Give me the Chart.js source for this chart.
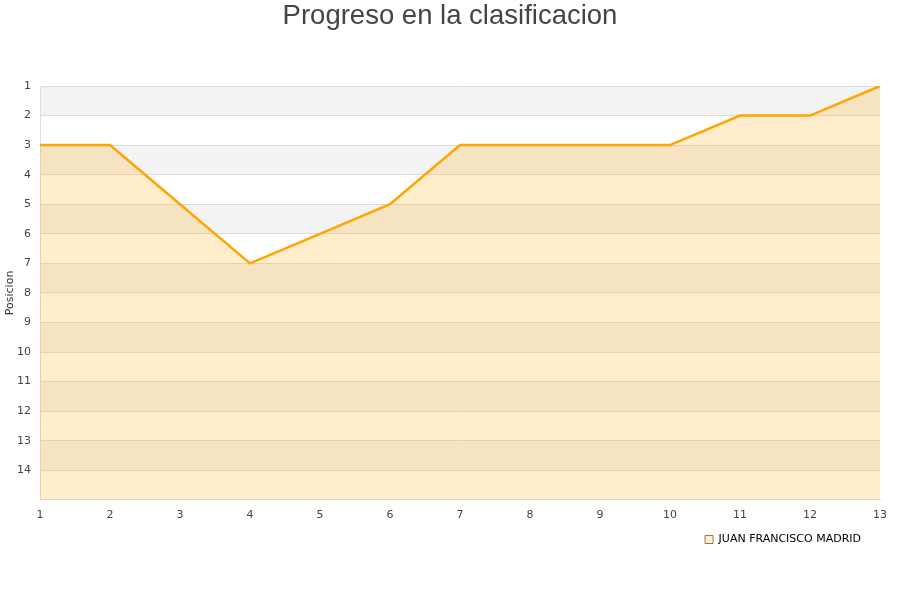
<!DOCTYPE html>
<html>
<head>
<meta charset="utf-8">
<script src="https://cdn.jsdelivr.net/npm/chart.js@4"></script>
<style>
  html, body { margin: 0; padding: 0; background: #fff; }
</style>
</head>
<body>
<canvas id="chart" width="900" height="600"></canvas>
<script>
// jornadas and position per jornada
const jornadas = ['1', '2', '3', '4', '5', '6', '7', '8', '9', '10', '11', '12', '13']
const posiciones = [3, 3, 5, 7, 6, 5, 3, 3, 3, 3, 2, 2, 1]
const jugador = 'JUAN FRANCISCO MADRID'
const posMin = 1
const posMax = 15

// gray stripes every other row, drawn before the grid
const bandas = {
  id: 'bandas',
  beforeDraw(chart) {
    const { ctx, chartArea, scales } = chart
    ctx.save()
    ctx.fillStyle = '#f3f3f3'
    for (let v = posMin; v < posMax; v += 2) {
      const y1 = scales.y.getPixelForValue(v)
      const y2 = scales.y.getPixelForValue(v + 1)
      ctx.fillRect(chartArea.left, y1, chartArea.right - chartArea.left, y2 - y1)
    }
    ctx.restore()
  }
}

// center the title on the canvas and nudge the legend left
const ajustes = {
  id: 'ajustes',
  afterLayout(chart) {
    if (chart.legend) {
      chart.legend.left -= 8
      chart.legend.right -= 8
    }
    if (chart.titleBlock) {
      chart.titleBlock.left += 10
      chart.titleBlock.right += 10
    }
  }
}

new Chart(document.getElementById('chart'), {
  type: 'line',
  data: {
    labels: jornadas,
    datasets: [
      {
        label: jugador,
        data: posiciones,
        borderColor: '#ffa500',
        backgroundColor: 'rgba(255, 165, 0, 0.2)',
        borderWidth: 2.5,
        pointRadius: 0,
        tension: 0,
        fill: { value: posMax }
      }
    ]
  },
  options: {
    responsive: false,
    animation: false,
    devicePixelRatio: 1,
    layout: { padding: { left: 0, right: 20, top: 0, bottom: 45 } },
    plugins: {
      title: {
        display: true,
        text: 'Progreso en la clasificacion',
        color: '#444',
        font: { family: 'Liberation Sans', size: 27.5, weight: 'normal' },
        padding: { top: 0, bottom: 53 }
      },
      legend: {
        position: 'bottom',
        align: 'end',
        labels: {
          boxWidth: 8,
          boxHeight: 8,
          padding: 11,
          color: '#000',
          font: { family: 'DejaVu Sans', size: 11 },
          generateLabels(chart) {
            const items = Chart.defaults.plugins.legend.labels.generateLabels(chart)
            items.forEach((item) => {
              item.lineWidth = 1
              item.strokeStyle = '#8a7a60'
            })
            return items
          }
        }
      },
      tooltip: { enabled: false }
    },
    scales: {
      x: {
        grid: { display: false },
        border: { color: '#ddd' },
        ticks: {
          color: '#444',
          padding: 1,
          font: { family: 'DejaVu Sans', size: 11 },
          maxRotation: 0,
          autoSkip: false
        }
      },
      y: {
        reverse: true,
        min: posMin,
        max: posMax,
        title: {
          display: true,
          text: 'Posicion',
          color: '#333',
          font: { family: 'DejaVu Sans', size: 11 },
          padding: { top: 4, bottom: 0 }
        },
        grid: { color: '#ddd', drawTicks: false },
        border: { color: '#ddd' },
        ticks: {
          stepSize: 1,
          padding: 9,
          color: '#444',
          font: { family: 'DejaVu Sans', size: 11 },
          callback: (v) => (v === posMax ? '' : v)
        },
        afterFit(scale) { scale.width = 40 }
      }
    }
  },
  plugins: [bandas, ajustes]
})
</script>
</body>
</html>
